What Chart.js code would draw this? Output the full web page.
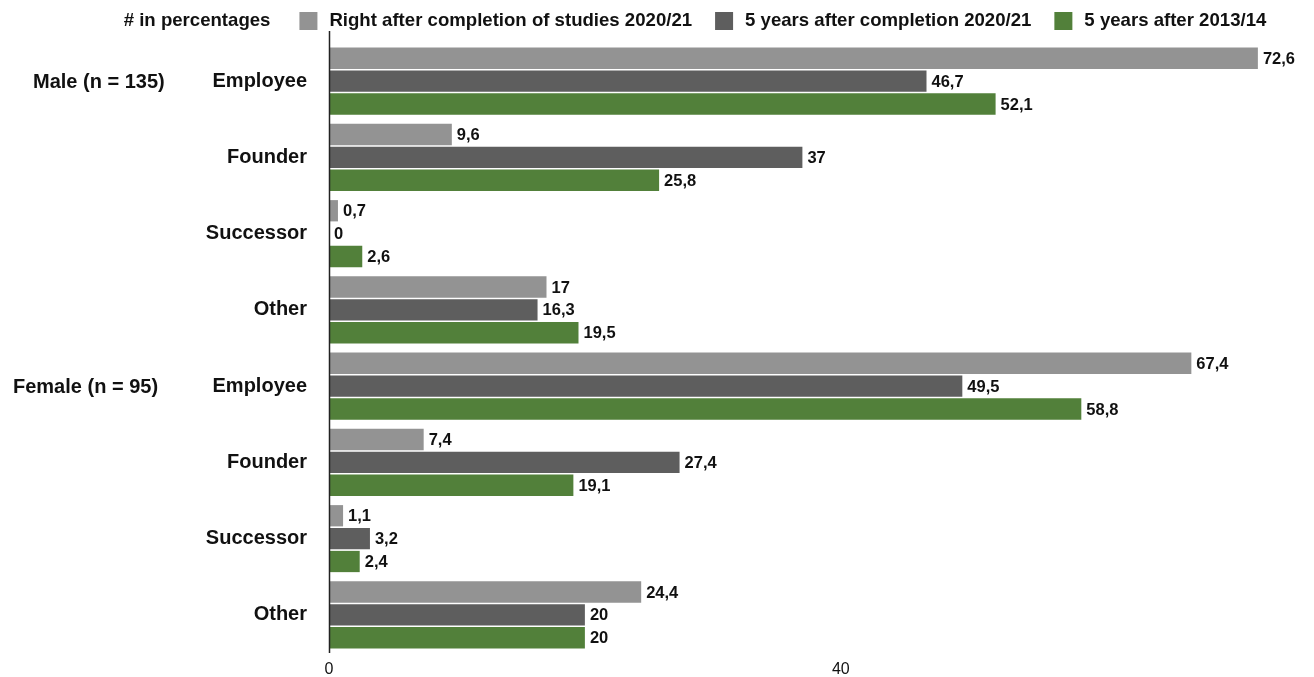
<!DOCTYPE html>
<html>
<head>
<meta charset="utf-8">
<title>Occupational status after completion of studies</title>
<script src="https://cdn.jsdelivr.net/npm/chart.js@4.4.1/dist/chart.umd.min.js"></script>
<style>
  html, body { margin: 0; padding: 0; background: #ffffff; }
  #wrap { position: relative; width: 1314px; height: 677px; }
</style>
</head>
<body>
<div id="wrap"><canvas id="chart"></canvas></div>
<script>
// Occupational status categories, grouped by gender
const categories = ['Employee', 'Founder', 'Successor', 'Other', 'Employee', 'Founder', 'Successor', 'Other'];
const groupLabels = ['Male (n = 135)', 'Female (n = 95)'];
const groupStartIndex = [0, 4];

// Series (values in percent)
const seriesNames = ['Right after completion of studies 2020/21', '5 years after completion 2020/21', '5 years after 2013/14'];
const rightAfter2021 = [72.6, 9.6, 0.7, 17, 67.4, 7.4, 1.1, 24.4];
const fiveYears2021 = [46.7, 37, 0, 16.3, 49.5, 27.4, 3.2, 20];
const fiveYears1314 = [52.1, 25.8, 2.6, 19.5, 58.8, 19.1, 2.4, 20];

const xTicks = [0, 40];
const legendTitle = '# in percentages';

const FONT = "'Liberation Sans', Arial, Helvetica, sans-serif";
const colors = ['#939393', '#5e5e5e', '#52803a'];
const textColor = '#111111';

const fmt = v => String(v).replace('.', ',');

// Legend row, value labels, group labels and the left axis line
const decorations = {
  id: 'decorations',
  afterDraw(chart, args, opts) {
    const ctx = chart.ctx;
    const area = chart.chartArea;
    const xs = chart.scales.x;
    const ys = chart.scales.y;
    ctx.save();

    // axis line at zero
    const x0 = Math.round(xs.getPixelForValue(0)) + 0.5;
    ctx.strokeStyle = '#222';
    ctx.lineWidth = 1.5;
    ctx.beginPath();
    ctx.moveTo(x0, opts.axisTop);
    ctx.lineTo(x0, area.bottom);
    ctx.stroke();

    // value labels next to each bar
    ctx.font = 'bold 16.5px ' + FONT;
    ctx.fillStyle = textColor;
    ctx.textAlign = 'left';
    ctx.textBaseline = 'middle';
    chart.data.datasets.forEach((ds, di) => {
      const meta = chart.getDatasetMeta(di);
      meta.data.forEach((bar, i) => {
        ctx.fillText(fmt(ds.data[i]), bar.x + 5, bar.y + 1);
      });
    });

    // group labels aligned with the first category of each group
    ctx.font = 'bold 20px ' + FONT;
    groupLabels.forEach((g, k) => {
      ctx.fillText(g, opts.groupX[k], ys.getPixelForValue(groupStartIndex[k]) + 1);
    });

    // legend row
    ctx.font = 'bold 18.6px ' + FONT;
    const box = 18, boxGap = 12, itemGap = 23, titleGap = 29;
    const items = chart.data.datasets.map(d => ({ text: d.label, color: d.backgroundColor }));
    let total = ctx.measureText(legendTitle).width + titleGap;
    items.forEach((it, i) => {
      total += box + boxGap + ctx.measureText(it.text).width + (i < items.length - 1 ? itemGap : 0);
    });
    let x = opts.legendCenter - total / 2;
    const y = opts.legendY;
    ctx.fillText(legendTitle, x, y);
    x += ctx.measureText(legendTitle).width + titleGap;
    items.forEach(it => {
      ctx.fillStyle = it.color;
      ctx.fillRect(x, y - box / 2, box, box);
      x += box + boxGap;
      ctx.fillStyle = textColor;
      ctx.fillText(it.text, x, y);
      x += ctx.measureText(it.text).width + itemGap;
    });

    ctx.restore();
  }
};

const seriesData = [rightAfter2021, fiveYears2021, fiveYears1314];

new Chart(document.getElementById('chart'), {
  type: 'bar',
  data: {
    labels: categories,
    datasets: seriesNames.map((name, i) => ({
      label: name,
      data: seriesData[i],
      backgroundColor: colors[i],
      borderWidth: 0,
      categoryPercentage: 0.9,
      barPercentage: 0.93
    }))
  },
  options: {
    indexAxis: 'y',
    responsive: true,
    maintainAspectRatio: false,
    animation: false,
    layout: { padding: { top: 43, right: 51, bottom: 0, left: 0 } },
    plugins: {
      legend: { display: false },
      tooltip: { enabled: false },
      decorations: { axisTop: 31, groupX: [33, 13], legendCenter: 695, legendY: 21 }
    },
    scales: {
      x: {
        min: 0,
        max: 73,
        grid: { display: false, drawTicks: false },
        border: { display: false },
        ticks: { stepSize: 40, color: textColor, font: { family: FONT, size: 16 }, padding: 7 },
        afterBuildTicks: s => { s.ticks = s.ticks.filter(t => xTicks.includes(t.value)); },
        afterFit: s => { s.height = 24; }
      },
      y: {
        grid: { display: false, drawTicks: false },
        border: { display: false },
        ticks: { color: textColor, font: { family: FONT, size: 20, weight: 'bold' }, padding: 22 },
        afterFit: s => { s.width = 329; s.paddingTop = 0; s.paddingBottom = 0; }
      }
    }
  },
  plugins: [decorations]
});
</script>
</body>
</html>
